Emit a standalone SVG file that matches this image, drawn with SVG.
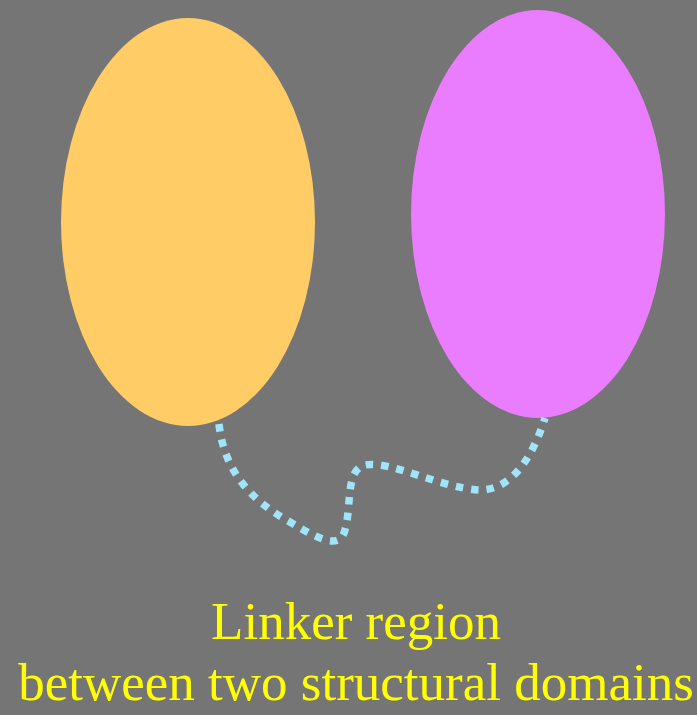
<svg xmlns="http://www.w3.org/2000/svg" width="697" height="715" viewBox="0 0 697 715">
  <style>
    .label { font-family: "Liberation Serif", "Times New Roman", serif; font-size: 53px; fill: #ffff00; text-anchor: middle; }
    .linker { fill: none; stroke: #a0e4fa; stroke-width: 7.5; stroke-dasharray: 7.5 8; }
  </style>
  <rect width="697" height="715" fill="#757575"/>
  <g id="domain-a">
    <ellipse cx="188" cy="222" rx="127" ry="204" fill="#ffcc66"/>
  </g>
  <g id="domain-b">
    <ellipse cx="538" cy="214" rx="127" ry="204" fill="#e97dfd"/>
  </g>
  <g id="connectors">
    <path class="linker" d="M219,424 C224,470 250,500 290,522 C320,540 340,550 345,530 C352,505 345,470 365,465 C390,460 440,488 480,490 C515,490 535,450 545,418"/>
  </g>
  <g id="caption">
    <text class="label" x="356" y="639">Linker region</text>
    <text class="label" x="356" y="700">between two structural domains</text>
  </g>
</svg>
